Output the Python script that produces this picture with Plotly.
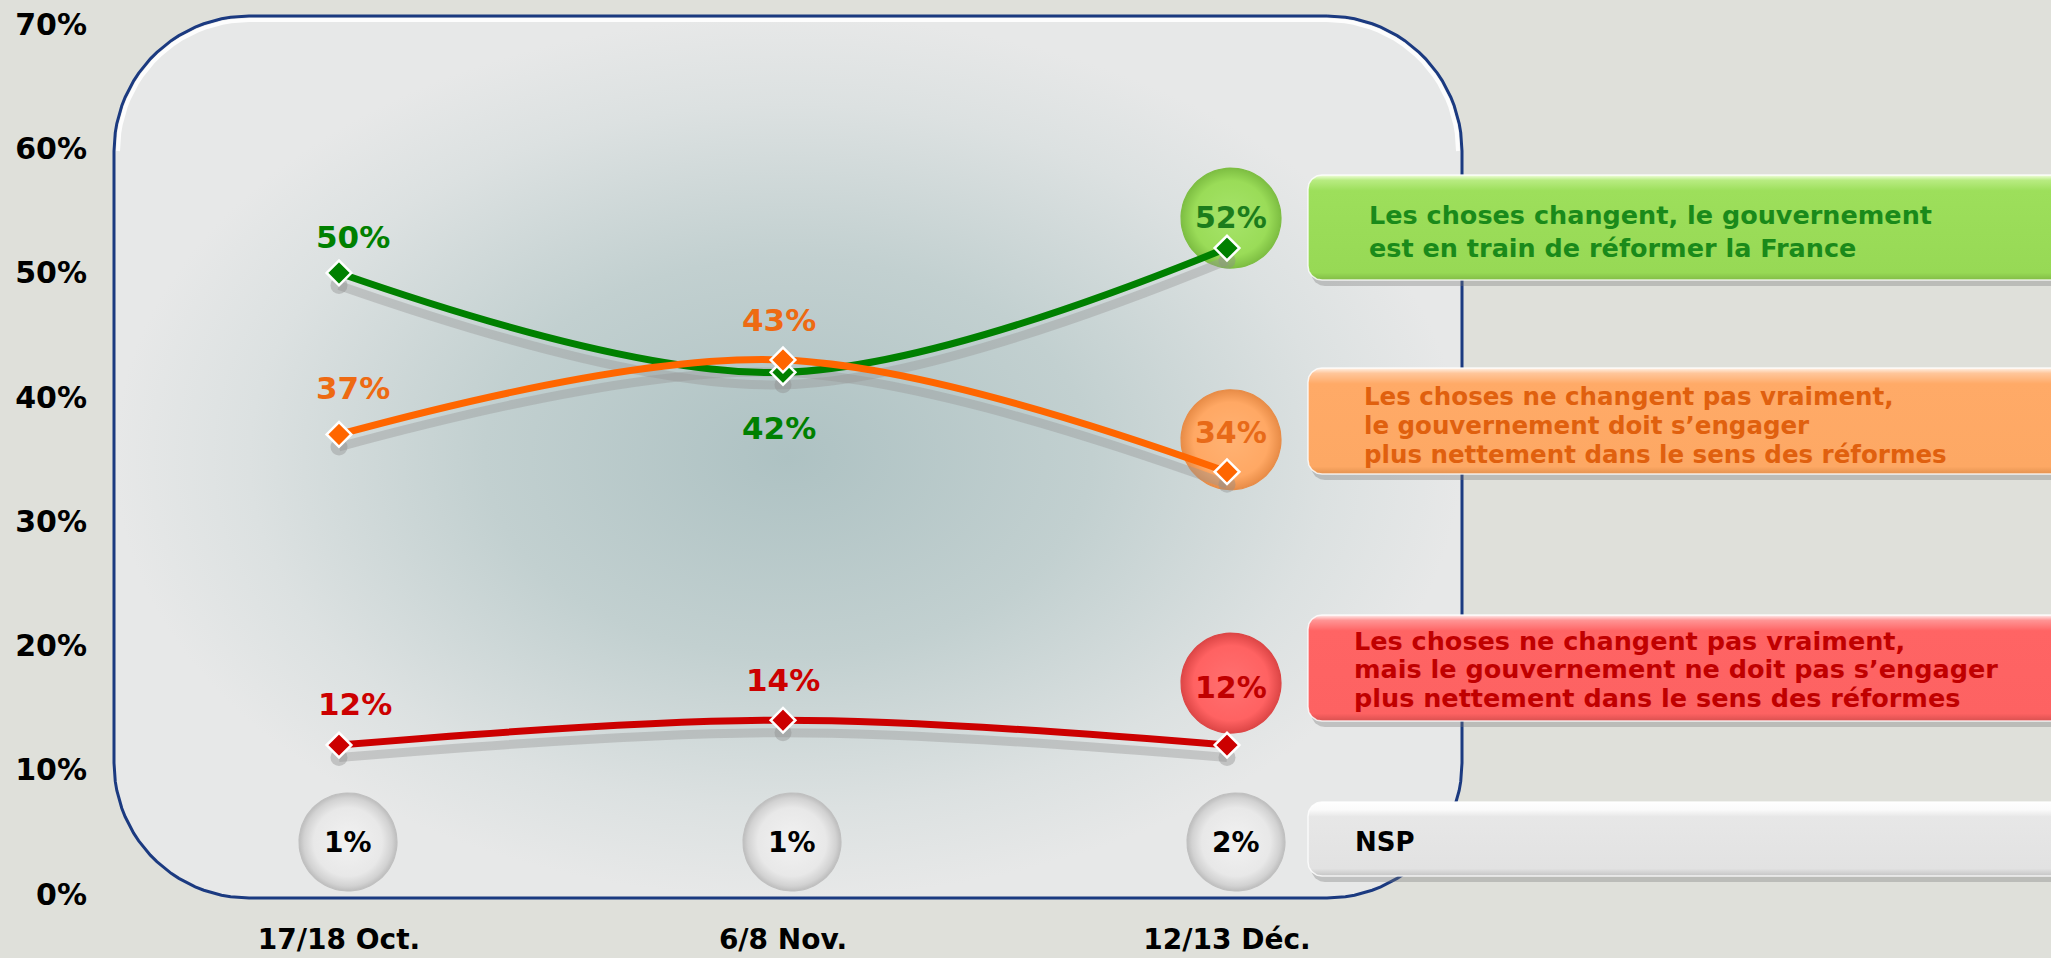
import numpy as np
import plotly.graph_objects as go

# ---------------- data ----------------
categories = ["17/18 Oct.", "6/8 Nov.", "12/13 Déc."]
s_change = [50, 42, 52]          # Les choses changent...
s_engager = [37, 43, 34]         # ... doit s'engager
s_pas_engager = [12, 14, 12]     # ... ne doit pas s'engager
s_nsp = [1, 1, 2]                # NSP
y_tick_values = [0, 10, 20, 30, 40, 50, 60, 70]
y_tick_labels = ["0%", "10%", "20%", "30%", "40%", "50%", "60%", "70%"]
legend_change = ["Les choses changent, le gouvernement",
                 "est en train de réformer la France"]
legend_engager = ["Les choses ne changent pas vraiment,",
                  "le gouvernement doit s\u2019engager",
                  "plus nettement dans le sens des réformes"]
legend_pas_engager = ["Les choses ne changent pas vraiment,",
                      "mais le gouvernement ne doit pas s\u2019engager",
                      "plus nettement dans le sens des réformes"]
legend_nsp = ["NSP"]

# ---------------- geometry (pixel <-> data) ----------------
W, H = 2051, 958
X0, DX = 339.0, 444.0      # pixel x of first category, pixels per category
Y0, DY = 894.2, 12.425     # pixel y of 0 %, pixels per 1 %


def dx(px):
    return (px - X0) / DX


def dy(py):
    return (Y0 - py) / DY


L, R, T, B = 88, 0, 0, 38
x_range = [dx(L), dx(W - R)]
y_range = [dy(H - B), dy(T)]

BG = "#DFE0DA"
FONT = "DejaVu Sans"
LEG_FONT = "DejaVu Sans"


def rrect_px(x0, y0, x1, y1, r, n=24, part="all"):
    corners = [(x1 - r, y0 + r, -90, 0), (x1 - r, y1 - r, 0, 90),
               (x0 + r, y1 - r, 90, 180), (x0 + r, y0 + r, 180, 270)]
    if part == "top":
        corners = [(x0 + r, y0 + r, 180, 270), (x1 - r, y0 + r, -90, 0)]
    pts = []
    for cx, cy, a0, a1 in corners:
        for t in np.linspace(np.radians(a0), np.radians(a1), n):
            pts.append((cx + r * np.cos(t), cy + r * np.sin(t)))
    if part == "all":
        pts.append(pts[0])
    xs = [dx(p[0]) for p in pts]
    ys = [dy(p[1]) for p in pts]
    return xs, ys


fig = go.Figure()

# ---- panel with radial gradient ----
px_, py_ = rrect_px(114, 16, 1462, 898, 135)
fig.add_trace(go.Scatter(
    x=px_, y=py_, mode="lines", fill="toself",
    fillgradient=dict(type="radial",
                      colorscale=[[0, "#AEC2C3"], [0.45, "#C2D0D0"],
                                  [0.8, "#DCE1E1"], [1, "#E7E8E8"]]),
    line=dict(color="#1B3A80", width=3), hoverinfo="skip"))
hx, hy = rrect_px(118, 20, 1458, 894, 131, part="top")
fig.add_trace(go.Scatter(x=hx, y=hy, mode="lines",
                         line=dict(color="rgba(255,255,255,0.9)", width=4),
                         hoverinfo="skip"))

# ---- legend boxes (vertical gradient) ----
def box(x0, y0, x1, y1, scale, r=14):
    sx, sy = rrect_px(x0 + 3, y0 + 6, x1, y1 + 6, r)
    fig.add_trace(go.Scatter(x=sx, y=sy, mode="lines", fill="toself",
                             fillcolor="rgba(120,120,120,0.35)",
                             line=dict(width=0), hoverinfo="skip"))
    bx, by = rrect_px(x0, y0, x1, y1, r)
    fig.add_trace(go.Scatter(x=bx, y=by, mode="lines", fill="toself",
                             fillgradient=dict(type="vertical", colorscale=scale),
                             line=dict(color="rgba(255,255,255,0.8)", width=1.5),
                             hoverinfo="skip"))


box(1308, 175, 2100, 280, [[0, "#82BC46"], [0.07, "#97D955"], [0.85, "#9DDF5B"],
                           [0.95, "#B8EC82"], [1, "#F4FFE0"]])
box(1308, 368, 2100, 474, [[0, "#E4924F"], [0.07, "#FDA864"], [0.85, "#FFAA67"],
                           [0.95, "#FFC69A"], [1, "#FFF3E8"]])
box(1308, 615, 2100, 721, [[0, "#D9504F"], [0.07, "#FD6262"], [0.85, "#FF6464"],
                           [0.95, "#FF9595"], [1, "#FFF0F0"]])
box(1308, 802, 2100, 876, [[0, "#C4C4C4"], [0.1, "#E2E2E2"], [0.8, "#E7E7E7"],
                           [0.9, "#FBFBFB"], [1, "#FFFFFF"]])

# ---- bubbles ----
def bubble(cx, cy, rpx, scale, rim):
    t = np.linspace(0, 2 * np.pi, 80)
    fig.add_trace(go.Scatter(
        x=cx + rpx * np.cos(t) / DX, y=cy + rpx * np.sin(t) / DY,
        mode="lines", fill="toself",
        fillgradient=dict(type="radial", colorscale=scale),
        line=dict(color=rim, width=1.2), hoverinfo="skip"))


bubble_shift_x = 4 / DX
# colored bubbles above last point (pixel offsets upward)
bubble(2 + bubble_shift_x, s_change[2] + 30 / DY, 50,
       [[0, "#A6E46A"], [0.75, "#9ADC58"], [1, "#7DBE42"]], "#7DBE42")
bubble(2 + bubble_shift_x, s_engager[2] + 32 / DY, 50,
       [[0, "#FFB273"], [0.75, "#FFA864"], [1, "#E88C47"]], "#E88C47")
bubble(2 + bubble_shift_x, s_pas_engager[2] + 62 / DY, 50,
       [[0, "#FF7070"], [0.75, "#FF6262"], [1, "#DD4646"]], "#DD4646")
nsp_row = dy(842)
for i in range(len(categories)):
    bubble(i + 9 / DX, nsp_row, 49,
           [[0, "#F2F2F2"], [0.7, "#E8E8E8"], [0.9, "#D2D2D2"], [1, "#BDBDBD"]],
           "#C0C0C0")

# ---- series ----
series = [
    (s_pas_engager, "#CC0000"),
    (s_change, "#008000"),
    (s_engager, "#FF6600"),
]
xs = list(range(len(categories)))
for vals, col in series:
    fig.add_trace(go.Scatter(
        x=xs, y=[v - 1.0 for v in vals], mode="lines+markers",
        line=dict(color="rgba(150,150,150,0.4)", width=9, shape="spline"),
        marker=dict(symbol="circle", size=17, color="rgba(140,140,140,0.4)"),
        hoverinfo="skip"))
for vals, col in series:
    fig.add_trace(go.Scatter(
        x=xs, y=vals, mode="lines+markers",
        line=dict(color=col, width=7, shape="spline"),
        marker=dict(symbol="diamond", size=19, color=col,
                    line=dict(color="white", width=2.5)),
        hoverinfo="skip"))

# ---- annotations ----
ann = []


def label(x, y, text, color, size=31, xshift=0, yshift=0):
    ann.append(dict(x=x, y=y, text=text, showarrow=False, xshift=xshift,
                    yshift=yshift, xanchor="center", yanchor="middle",
                    font=dict(family=FONT, size=size, color=color, weight="bold")))


# green
label(0, s_change[0], f"{s_change[0]}%", "#008000", xshift=14, yshift=36)
label(1, s_change[1], f"{s_change[1]}%", "#008000", xshift=-4, yshift=-56)
label(2, s_change[2], f"{s_change[2]}%", "#1C7C1C", size=30, xshift=4, yshift=31)
# orange
label(0, s_engager[0], f"{s_engager[0]}%", "#EE6A12", xshift=14, yshift=46)
label(1, s_engager[1], f"{s_engager[1]}%", "#EE6A12", xshift=-4, yshift=40)
label(2, s_engager[2], f"{s_engager[2]}%", "#E86A18", size=30, xshift=4, yshift=39)
# red
label(0, s_pas_engager[0], f"{s_pas_engager[0]}%", "#CC0000", xshift=16, yshift=41)
label(1, s_pas_engager[1], f"{s_pas_engager[1]}%", "#CC0000", xshift=0, yshift=40)
label(2, s_pas_engager[2], f"{s_pas_engager[2]}%", "#C00000", size=30, xshift=4, yshift=58)
# NSP
for i, v in enumerate(s_nsp):
    label(i, nsp_row, f"{v}%", "#000000", size=28, xshift=9)


def legend_text(lines, x_px, y_px_list, color, size=25):
    for line, ypx in zip(lines, y_px_list):
        ann.append(dict(x=dx(x_px), y=dy(ypx), text=line, showarrow=False,
                        xanchor="left", yanchor="middle",
                        font=dict(family=LEG_FONT, size=size, color=color,
                                  weight="bold")))


legend_text(legend_change, 1367, [215, 248], "#1A8A1A", size=25.5)
legend_text(legend_engager, 1362, [396, 425, 454], "#E0600E", size=24.5)
legend_text(legend_pas_engager, 1352, [641, 669, 698], "#C00000", size=25.5)
legend_text(legend_nsp, 1353, [842], "#000000", size=26)

fig.update_layout(
    width=W, height=H,
    margin=dict(l=L, r=R, t=T, b=B, pad=0),
    paper_bgcolor=BG, plot_bgcolor=BG,
    showlegend=False,
    annotations=ann,
    xaxis=dict(range=x_range, tickmode="array", tickvals=xs, ticktext=categories,
               showgrid=False, zeroline=False, showline=False, ticks="",
               tickfont=dict(family=FONT, size=28, color="#000000", weight="bold"),
               fixedrange=True),
    yaxis=dict(range=y_range, tickmode="array", tickvals=y_tick_values,
               ticktext=y_tick_labels, showgrid=False, zeroline=False,
               showline=False, ticks="",
               tickfont=dict(family=FONT, size=30, color="#000000", weight="bold"),
               fixedrange=True),
)

fig.write_html(
    "out.html",
    config={"displayModeBar": False},
    post_script="document.body.style.margin='0';"
                "document.body.style.overflow='hidden';"
                "document.body.style.background='" + BG + "';",
)
